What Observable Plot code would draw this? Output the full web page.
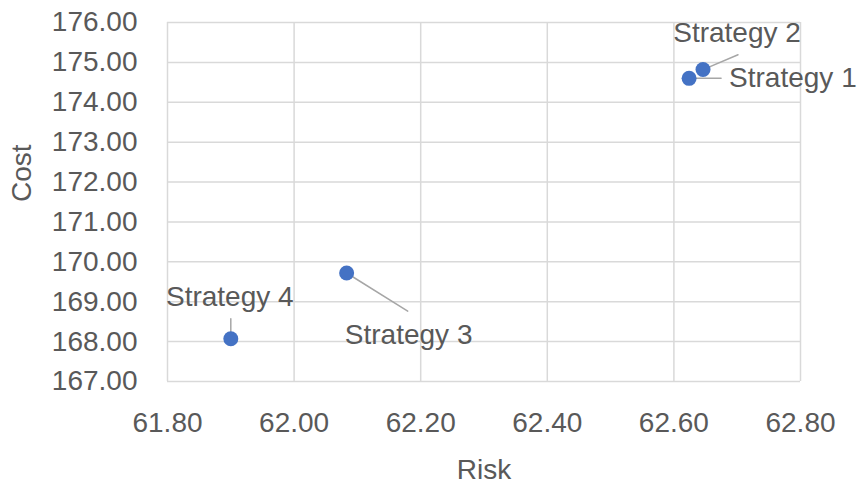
<!DOCTYPE html>
<html><head><meta charset="utf-8">
<script src="https://cdn.jsdelivr.net/npm/d3@7"></script>
<script src="https://cdn.jsdelivr.net/npm/@observablehq/plot@0.6"></script>
<style>body{margin:0;background:#fff;}</style>
</head><body><div id="chart"></div>
<script>
const strategies = ["Strategy 1", "Strategy 2", "Strategy 3", "Strategy 4"];
const risk = [62.624, 62.646, 62.083, 61.900];
const cost = [174.60, 174.82, 169.72, 168.07];
const xTicks = [61.8, 62.0, 62.2, 62.4, 62.6, 62.8];
const yTicks = [167, 168, 169, 170, 171, 172, 173, 174, 175, 176];
const xTitle = "Risk";
const yTitle = "Cost";

const data = strategies.map((s, i) => ({name: s, risk: risk[i], cost: cost[i]}));

// label placement (pixel offsets, style only)
const labelStyle = {
  "Strategy 1": {dx: 40, dy: 0, anchor: "start", len: 32, rot: 90},
  "Strategy 2": {dx: 34, dy: -37, anchor: "middle", len: 38, rot: 67},
  "Strategy 3": {dx: 62, dy: 62, anchor: "middle", len: 72, rot: 122},
  "Strategy 4": {dx: -1, dy: -42, anchor: "middle", len: 20, rot: 0}
};
const leaderShape = {draw(ctx, l) { ctx.moveTo(0, 0); ctx.lineTo(0, -l); }};
const textColor = "#595959";

const marks = [
  Plot.gridX(xTicks, {stroke: "#d9d9d9", strokeOpacity: 1, strokeWidth: 1.5}),
  Plot.gridY(yTicks, {stroke: "#d9d9d9", strokeOpacity: 1, strokeWidth: 1.5}),
  Plot.axisX(xTicks, {tickSize: 0, tickPadding: 31, tickFormat: d3.format(".2f"), label: null}),
  Plot.axisY(yTicks, {tickSize: 0, tickPadding: 30, tickFormat: d3.format(".2f"), label: null}),
];
for (const d of data) {
  const s = labelStyle[d.name];
  marks.push(Plot.vector([d], {x: "risk", y: "cost", length: s.len, rotate: s.rot, anchor: "start",
    shape: leaderShape, stroke: "#a6a6a6", strokeWidth: 1.5}));
}
marks.push(Plot.dot(data, {x: "risk", y: "cost", r: 7.5, fill: "#4472C4", stroke: "none"}));
for (const d of data) {
  const s = labelStyle[d.name];
  marks.push(Plot.text([d], {x: "risk", y: "cost", text: "name", dx: s.dx, dy: s.dy,
    textAnchor: s.anchor, fill: textColor, fontSize: 28}));
}
marks.push(Plot.text([yTitle], {text: d => d, frameAnchor: "left", dx: -145, rotate: -90, fill: textColor, fontSize: 28}));
marks.push(Plot.text([xTitle], {text: d => d, frameAnchor: "bottom", dy: 97, fill: textColor, fontSize: 28}));

const chart = Plot.plot({
  width: 857, height: 485,
  marginLeft: 167, marginRight: 57, marginTop: 22, marginBottom: 104,
  x: {domain: [61.8, 62.8]},
  y: {domain: [167, 176]},
  style: {fontFamily: "'Liberation Sans', Arial, sans-serif", fontSize: "28px", color: textColor, background: "#fff"},
  marks
});
document.getElementById("chart").appendChild(chart);
</script>
</body></html>
